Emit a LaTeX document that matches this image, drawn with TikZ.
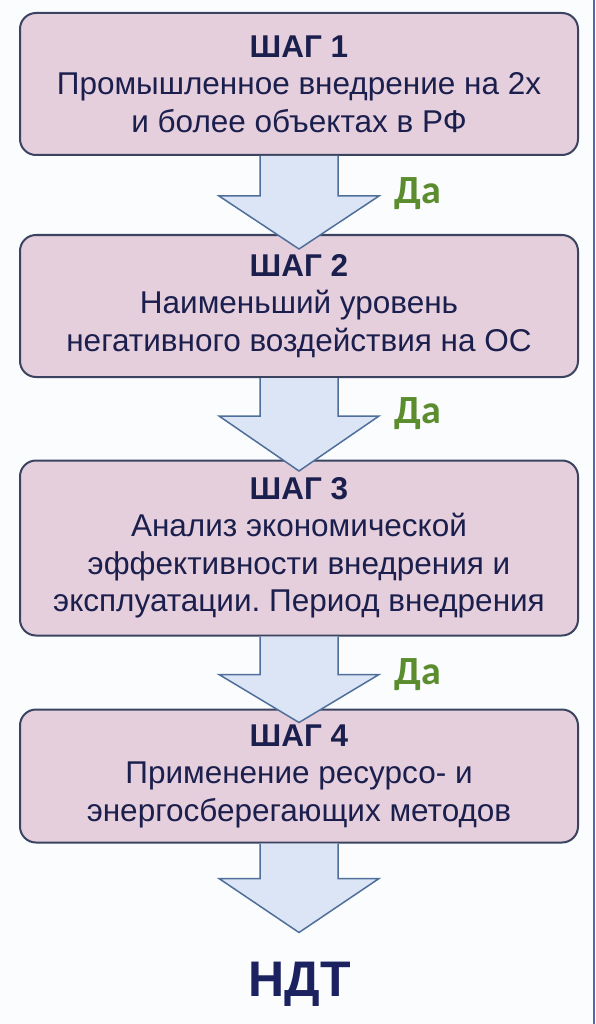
\documentclass[tikz,border=0pt]{standalone}
\usepackage{fontspec}
\setmainfont{Liberation Sans}
\newfontfamily\yesfont{Carlito}
\frenchspacing
\usetikzlibrary{calc}
\definecolor{boxfill}{HTML}{E6CFDC}
\definecolor{boxline}{HTML}{3A4460}
\definecolor{arrfill}{HTML}{DCE5F5}
\definecolor{arrline}{HTML}{4F6F9A}
\definecolor{txtcol}{HTML}{1B1F4D}
\definecolor{yescol}{HTML}{5B8C2E}
\definecolor{bgcol}{HTML}{FAFCFE}
\definecolor{edgeblue}{HTML}{5566B0}
\definecolor{ndtcol}{HTML}{1C2260}
\newcommand\flowarrow[3]{%
  \fill[arrfill] ($(#1.south)+(-39,0)$) -- ($(#1.south)+(-39,#2)$) -- ($(#1.south)+(-80,#2)$) -- ($(#1.south)+(0,#3)$) -- ($(#1.south)+(80,#2)$) -- ($(#1.south)+(39,#2)$) -- ($(#1.south)+(39,0)$) -- cycle;
  \draw[arrline, line width=1.5pt, line join=miter] ($(#1.south)+(-39,0)$) -- ($(#1.south)+(-39,#2)$) -- ($(#1.south)+(-80,#2)$) -- ($(#1.south)+(0,#3)$) -- ($(#1.south)+(80,#2)$) -- ($(#1.south)+(39,#2)$) -- ($(#1.south)+(39,0)$);%
}
\begin{document}
\begin{tikzpicture}[x=1pt,y=-1pt,
  stepbox/.style={draw=boxline, line width=2pt, fill=boxfill, rounded corners=16pt,
    minimum width=558pt, inner sep=0pt, align=center, text=txtcol,
    font=\fontsize{31.5}{37.5}\selectfont},
  yes/.style={text=yescol, font=\yesfont\bfseries\fontsize{40}{44}\selectfont, inner sep=0pt},
  ndt/.style={text=ndtcol, font=\bfseries\fontsize{50}{56}\selectfont, inner sep=0pt}]
\useasboundingbox (0,0) rectangle (595,1024);
\fill[bgcol] (0,0) rectangle (595,1024);
\draw[edgeblue, line width=2pt] (594,0) -- (594,1024);

\node[stepbox, minimum height=142pt] (b1) at (299,84)
  {\textbf{ШАГ 1}\\Промышленное внедрение на 2х\\и более объектах в РФ};
\node[stepbox, minimum height=142pt] (b2) at (299,306)
  {\textbf{ШАГ 2}\\Наименьший уровень\\негативного воздействия на ОС};
\node[stepbox, minimum height=175pt] (b3) at (299,548)
  {\textbf{ШАГ 3}\\Анализ экономической\\эффективности внедрения и\\эксплуатации. Период внедрения};
\node[stepbox, minimum height=133pt] (b4) at (299,776)
  {\textbf{ШАГ 4}\\Применение ресурсо- и\\энергосберегающих методов};
\node[ndt] (ndt) at (300,984) {НДТ};

\flowarrow{b1}{40}{93}
\flowarrow{b2}{38}{93}
\flowarrow{b3}{38}{86}
\flowarrow{b4}{35}{89}

\node[yes] (y1) at ($(b1.south)+(119,38)$) {Да};
\node[yes] (y2) at ($(b2.south)+(119,36)$) {Да};
\node[yes] (y3) at ($(b3.south)+(119,38)$) {Да};
\end{tikzpicture}
\end{document}
